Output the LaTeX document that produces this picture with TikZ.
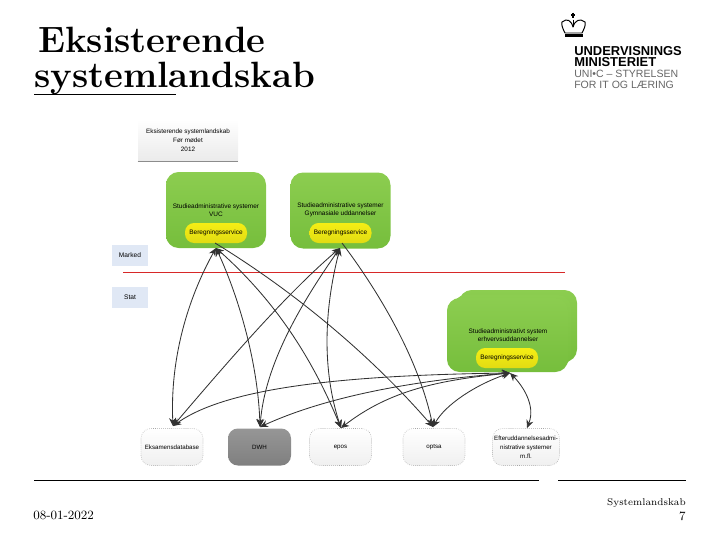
\documentclass[tikz,border=0pt]{standalone}
\usepackage{fontspec}
\setsansfont{Liberation Sans}
\usetikzlibrary{arrows.meta,positioning,calc}
\definecolor{SysGreen}{RGB}{140,205,80}
\definecolor{SysGreenDark}{RGB}{118,190,60}
\definecolor{SysYellow}{RGB}{245,238,20}
\definecolor{SysPale}{RGB}{224,232,245}
\definecolor{SysLine}{RGB}{50,50,50}
\definecolor{SysRed}{RGB}{215,40,40}
\definecolor{SysDark}{RGB}{150,150,150}
\newlength{\unit}
\setlength{\unit}{0.025cm}
\tikzset{
  gronboks/.style={top color=SysGreen, bottom color=SysGreenDark, draw=none, rounded corners=9pt,
                minimum width=100\unit, minimum height=76\unit, inner sep=0pt},
  gronnavn/.style={align=center, font=\sffamily\fontsize{4.6}{6}\selectfont, inner sep=0pt},
  beregning/.style={top color=SysYellow, bottom color=SysYellow!92!black, draw=none, rounded corners=6.5pt,
                font=\sffamily\fontsize{4.6}{6}\selectfont, minimum width=62\unit, minimum height=20\unit, inner sep=0pt},
  hvidboks/.style={top color=white, bottom color=black!6, draw=black!35, densely dotted, rounded corners=7pt,
                align=center, font=\sffamily\fontsize{4.4}{6.4}\selectfont, minimum width=62\unit, minimum height=37\unit, inner sep=0pt},
  sideboks/.style={fill=SysPale, font=\sffamily\fontsize{4.7}{6}\selectfont, minimum width=36\unit, minimum height=21\unit, inner sep=0pt},
  pil/.style={{Stealth[length=2mm,width=1.8mm]}-{Stealth[length=2mm,width=1.8mm]}, SysLine, line width=0.6pt},
  enkeltpil/.style={-{Stealth[length=2mm,width=1.8mm]}, SysLine, line width=0.6pt},
  streg/.style={black, line width=0.7pt},
  titeltekst/.style={anchor=base west, inner sep=0pt, font=\bfseries\fontsize{26}{27}\selectfont},
  logotekst/.style={font=\sffamily\bfseries\fontsize{9.2}{9}\selectfont, anchor=base west, inner sep=0pt},
  logotynd/.style={font=\sffamily\fontsize{7.5}{9}\selectfont, text=black!60, anchor=base west, inner sep=0pt},
}
\begin{document}
\begin{tikzpicture}[x=0.025cm,y=-0.025cm]
  \useasboundingbox (0,0) rectangle (720,540);

  % Titel og logo
  \node[titeltekst] (titel1) at (38,52.7) {Eksisterende};
  \node[titeltekst] (titel2) at (34,87) {systemlandskab};
  \coordinate (titelA) at (34,94);
  \coordinate (titelB) at (176,94);
  \draw[black, line width=0.6pt] (titelA) -- (titelB);

  % krone
  \draw[black, line width=0.7pt, line join=round] (562,22) .. controls (567,18) and (571,20) .. (573,27)
    .. controls (575,20) and (580,18) .. (585,22) .. controls (586,25) and (584,29) .. (582,33)
    -- (565,33) .. controls (563,29) and (561,25) .. (562,22) -- cycle;
  \draw[black, line width=0.7pt] (573,19.5) -- (573,27);
  \draw[black, line width=0.8pt] (573,12.5) -- (573,18) (571,15) -- (575,15);
  \fill[black] (564.5,33.5) rectangle (582.5,36.5);

  \node[logotekst] (logo1) at (574,55) {UNDERVISNINGS};
  \node[logotekst] (logo2) at (574,66.5) {MINISTERIET};
  \node[logotynd] (logo3) at (574,77.5) {UNI•C – STYRELSEN};
  \node[logotynd] (logo4) at (574,88) {FOR IT OG LÆRING};

  % Overskriftsboks
  \node[top color=white, bottom color=black!8, draw=none, align=center, font=\sffamily\fontsize{4.5}{6.4}\selectfont,
        minimum width=100\unit, minimum height=42\unit, inner sep=0pt] (head) at (188,140)
    {Eksisterende systemlandskab\\Før mødet\\2012};
  \coordinate (headA) at (head.south west);
  \coordinate (headB) at (head.south east);
  \draw[black!45, line width=0.5pt] (headA) -- (headB);

  % Systemer
  \node[gronboks] (vuc) at (216,210) {};
  \node[gronboks] (gym) at (340.5,210.5) {};
  \node[gronnavn] (vucnavn) at (216,210) {Studieadministrative systemer\\VUC};
  \node[gronnavn] (gymnavn) at (340.5,210) {Studieadministrative systemer\\Gymnasiale uddannelser};
  \node[beregning] (bervuc) at (216,233) {Beregningsservice};
  \node[beregning] (bergym) at (340.5,233) {Beregningsservice};

  \node[gronboks, minimum width=118\unit, minimum height=72\unit] (erhv3) at (518,326) {};
  \node[gronboks, minimum width=118\unit, minimum height=72\unit] (erhv2) at (512,331) {};
  \node[gronboks, minimum width=121\unit, minimum height=74\unit] (erhv) at (507.5,335) {};
  \node[gronnavn] (erhvnavn) at (508,335) {Studieadministrativt system\\erhvervsuddannelser};
  \node[beregning] (bererhv) at (507,358) {Beregningsservice};

  % Marked og stat
  \node[sideboks] (marked) at (130,255.5) {Marked};
  \node[sideboks] (stat) at (130,297.5) {Stat};
  \coordinate (delA) at (123,272.5);
  \coordinate (delB) at (565,272.5);
  \draw[SysRed, line width=1.1pt] (delA) -- (delB);

  % Registre
  \node[hvidboks] (eksamen) at (172,447) {Eksamensdatabase};
  \node[hvidboks, top color=SysDark, bottom color=SysDark!85!black, draw=none, minimum width=63\unit] (dwh) at (259.5,447) {DWH};
  \node[hvidboks] (epos) at (340.5,447) {epos};
  \node[hvidboks] (optsa) at (434,447) {optsa};
  \node[hvidboks, minimum width=67\unit] (efter) at (526,447) {Efteruddannelsesadmi-\\nistrative systemer\\m.fl.};

  % Pile
  \coordinate (vucP) at (216,248);
  \coordinate (vucS) at (215,243);
  \coordinate (gymP) at (340,248);
  \coordinate (gymS) at (342,243);
  \coordinate (erhvP) at (510,373);
  \coordinate (eksP) at (173,426);
  \coordinate (dwhP) at (260,427);
  \coordinate (eposP) at (341,428);
  \coordinate (optP) at (433,427);
  \coordinate (eftP) at (527,428);

  \draw[pil] (vucP) .. controls (187,300) and (170,360) .. (eksP);
  \draw[pil] (vucP) .. controls (240,300) and (258,365) .. (dwhP);
  \draw[pil] (vucP) .. controls (280,305) and (315,365) .. (eposP);
  \draw[enkeltpil] (vucS) .. controls (300,295) and (375,360) .. (optP);
  \draw[pil] (gymP) .. controls (285,295) and (225,365) .. (eksP);
  \draw[pil] (gymP) .. controls (300,305) and (265,365) .. (dwhP);
  \draw[pil] (gymP) .. controls (324,310) and (322,370) .. (eposP);
  \draw[enkeltpil] (gymS) .. controls (385,300) and (420,365) .. (optP);
  \draw[pil] (erhvP) .. controls (360,375) and (230,385) .. (eksP);
  \draw[pil] (erhvP) .. controls (420,380) and (330,395) .. (dwhP);
  \draw[pil] (erhvP) .. controls (440,380) and (390,390) .. (eposP);
  \draw[pil] (erhvP) .. controls (475,385) and (445,405) .. (optP);
  \draw[pil] (erhvP) .. controls (522,385) and (536,405) .. (eftP);

  % Bundlinje
  \coordinate (bundA) at (34,480);
  \coordinate (bundB) at (539,480);
  \coordinate (bundC) at (558,480);
  \coordinate (bundD) at (686,480);
  \draw[streg] (bundA) -- (bundB);
  \draw[streg] (bundC) -- (bundD);
  \node[anchor=base west, inner sep=0pt, font=\fontsize{9}{11}\selectfont] (dato) at (33,519) {\oldstylenums{08}-\oldstylenums{01}-\oldstylenums{2022}};
  \node[anchor=base east, inner sep=0pt, font=\fontsize{7}{11}\selectfont] (side1) at (686,505) {Systemlandskab};
  \node[anchor=base east, inner sep=0pt, font=\fontsize{9}{11}\selectfont] (side2) at (686,520) {\oldstylenums{7}};
\end{tikzpicture}
\end{document}
